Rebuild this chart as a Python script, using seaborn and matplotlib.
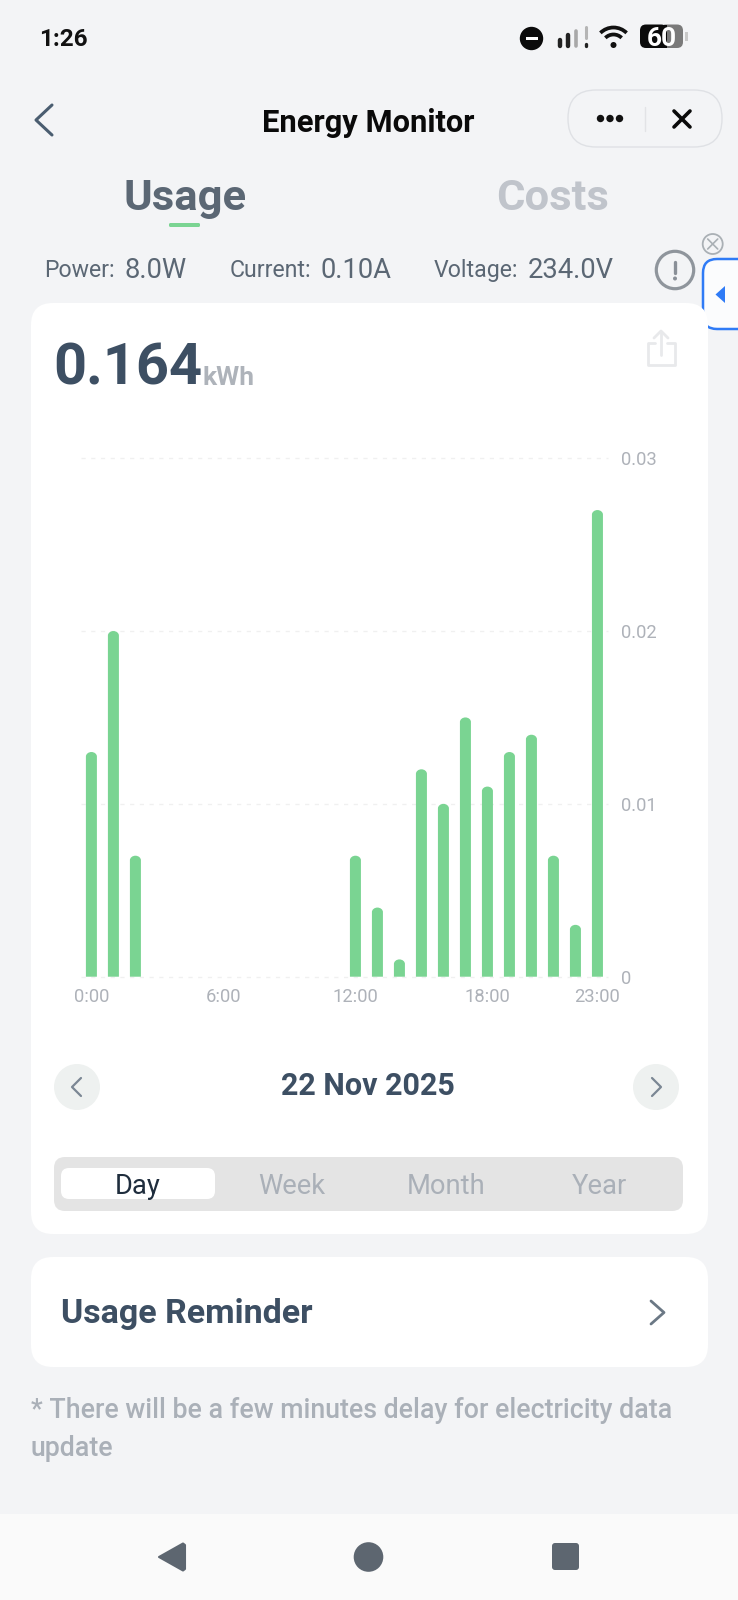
import matplotlib
matplotlib.use('Agg')
import matplotlib.pyplot as plt
import seaborn as sns
import pandas as pd
from matplotlib.patches import FancyBboxPatch, Circle, Polygon, Arc, Rectangle, PathPatch
from matplotlib.path import Path

W, H = 738, 1600

hours = list(range(24))
usage = [0.013, 0.02, 0.007, 0, 0, 0, 0, 0, 0, 0, 0, 0,
         0.007, 0.004, 0.001, 0.012, 0.01, 0.015, 0.011, 0.013, 0.014, 0.007, 0.003, 0.027]
x_ticks = [0, 6, 12, 18, 23]
x_labels = ['0:00', '6:00', '12:00', '18:00', '23:00']
y_ticks = [0, 0.01, 0.02, 0.03]
y_labels = ['0', '0.01', '0.02', '0.03']
periods = ['Day', 'Week', 'Month', 'Year']
readings = [('Power:', '8.0W'), ('Current:', '0.10A'), ('Voltage:', '234.0V')]

BG = '#f3f4f6'
GREEN = '#7ad492'
NAVY = '#3d4f63'
GREY = '#aab0b8'

sns.set_theme(style='white')
plt.rcParams['font.family'] = ['Roboto', 'DejaVu Sans']
plt.rcParams['patch.force_edgecolor'] = False  # seaborn puts a white edge on every patch otherwise

fig = plt.figure(figsize=(W / 100, H / 100), dpi=100, facecolor=BG)

# whole screen in pixel coordinates, the app chrome goes here
ui = fig.add_axes([0, 0, 1, 1], zorder=0)
ui.set_xlim(0, W)
ui.set_ylim(H, 0)
ui.axis('off')


def rrect(x0, y0, x1, y1, r, fc, ec='none', lw=0):
    ui.add_patch(FancyBboxPatch((x0 + r, y0 + r), x1 - x0 - 2 * r, y1 - y0 - 2 * r,
                                boxstyle='round,pad=%s,rounding_size=%s' % (r, r),
                                fc=fc, ec=ec, lw=lw))


def chevron(x0, x1, y0, y1, color, lw=2, left=True):
    tip, tail = (x0, x1) if left else (x1, x0)
    ui.plot([tail, tip, tail], [y0, (y0 + y1) / 2, y1], color=color, lw=lw,
            solid_capstyle='round', solid_joinstyle='round')


def label(x, y, s, size, color, weight='normal', ha='center'):
    ui.text(x, y, s, fontsize=size, color=color, fontweight=weight, ha=ha, va='center_baseline')


# status bar
label(39, 37.5, '1:26', 17.5, '#111111', 'bold', ha='left')
ui.add_patch(Circle((531.5, 38.5), 11.7, fc='#0b0b0b'))
ui.add_patch(Rectangle((525.5, 37), 12, 3, fc='white'))
for bx, top, col, bw in [(559.5, 40, '#222222', 3.2), (567.5, 35, '#222222', 3.2), (576, 31, '#a8a8a8', 2.6)]:
    ui.plot([bx, bx], [46, top], color=col, lw=bw, solid_capstyle='round')
ui.plot([585.5, 585.5], [27, 38], color='#b5b5b5', lw=2.2, solid_capstyle='round')
ui.plot([585.5, 585.5], [44, 46], color='#222222', lw=2.4, solid_capstyle='round')
ui.add_patch(Arc((613.5, 46), 37, 37, theta1=225, theta2=315, color='#111111', lw=2.7))
ui.add_patch(Arc((613.5, 46), 23, 23, theta1=225, theta2=315, color='#111111', lw=2.7))
ui.add_patch(Circle((613.5, 45), 3, fc='#111111'))
rrect(660, 24.5, 683, 48, 6, '#7a7a7a')
rrect(640, 24.5, 667, 48, 6, '#0b0b0b')
ui.add_patch(Rectangle((661, 24.5), 6, 23.5, fc='#0b0b0b'))
ui.add_patch(Rectangle((685, 32), 2.5, 9, fc='#c9c9c9'))
label(661.5, 37, '60', 19, 'white', 'bold')

# header
chevron(36, 52, 105, 135, '#4a5d70', lw=2.2)
label(368.5, 120, 'Energy Monitor', 22.2, '#0a0a0a', 'bold')
rrect(568, 90, 722, 147, 28, BG, ec='#dfe1e5', lw=1)
for dx in [600.5, 610, 619.5]:
    ui.add_patch(Circle((dx, 118.5), 3.7, fc='#111111'))
ui.plot([645, 645], [107, 131], color='#e2e3e6', lw=1)
ui.plot([674, 690], [111, 127], color='#0a0a0a', lw=2.6, solid_capstyle='round')
ui.plot([674, 690], [127, 111], color='#0a0a0a', lw=2.6, solid_capstyle='round')

# tabs
label(185, 194, 'Usage', 31.3, '#5b6774', 'bold')
label(553, 194, 'Costs', 31.3, '#c0c4cb', 'bold')
rrect(169, 223, 200, 227, 1.5, GREEN)

# live readings
for (name, val), nx, vx in zip(readings, [44, 230, 434], [124, 321, 528]):
    label(nx, 268, name, 16.7, '#5b6774', ha='left')
    label(vx, 268, val, 19.7, '#5b6774', ha='left')
ui.add_patch(Circle((675, 270), 18.7, fc='none', ec='#8f959c', lw=2.3))
ui.plot([675, 675], [262, 273], color='#8a9098', lw=2.4, solid_capstyle='round')
ui.add_patch(Circle((675, 278.5), 2, fc='#8a9098'))

# floating tab on the right edge
ui.add_patch(Circle((712.7, 244), 10, fc=BG, ec='#aab0b5', lw=1.3))
ui.plot([707.7, 717.7], [239, 249], color='#aab0b5', lw=1.2)
ui.plot([707.7, 717.7], [249, 239], color='#aab0b5', lw=1.2)
rrect(703, 259, 760, 329, 14, '#fbfcfd', ec='#2f7bf6', lw=1.8)
ui.add_patch(Polygon([(715.5, 294.5), (725, 286), (725, 303)], fc='#2f7bf6'))

# main card
rrect(31, 303, 708, 1234, 22, 'white')
label(53, 363, '0.164', 41.6, NAVY, 'bold', ha='left')
label(202, 375.5, 'kWh', 19, '#aeb3ba', 'bold', ha='left')

# share icon
share = '#e8e9eb'
ui.plot([655, 648, 648, 675, 675, 667], [343, 343, 365, 365, 343, 343], color=share, lw=2,
        solid_joinstyle='round')
ui.plot([661, 661], [332, 355], color=share, lw=2)
ui.plot([654, 661, 668], [338, 331, 338], color=share, lw=2)

# date row
for cx in [77, 656]:
    ui.add_patch(Circle((cx, 1087), 23, fc='#eef1f0'))
chevron(72, 81, 1078, 1096, '#7b8794', lw=1.6)
chevron(652, 661, 1078, 1096, '#7b8794', lw=1.6, left=False)
label(367.5, 1083, '22 Nov 2025', 22, NAVY, 'bold')

# period switch
rrect(54, 1157, 683, 1211, 11, '#e4e4e4')
rrect(61, 1168, 215, 1199, 8, 'white')
for name, cx in zip(periods, [138, 292, 446.5, 599.5]):
    label(cx, 1183.5, name, 19.7, '#1f2d3d' if name == 'Day' else GREY)

# reminder card
rrect(31, 1257, 708, 1367, 22, 'white')
label(61, 1310, 'Usage Reminder', 24.5, NAVY, 'bold', ha='left')
chevron(651, 664, 1301, 1324, '#6b7885', lw=2, left=False)

# footnote
label(31, 1408, '* There will be a few minutes delay for electricity data', 19.3, GREY, 'medium', ha='left')
label(31, 1446, 'update', 19.3, GREY, 'medium', ha='left')

# android nav bar
ui.add_patch(Rectangle((0, 1514), W, 86, fc='#fafafa'))
ui.add_patch(Polygon([(159, 1557), (183, 1543.5), (185, 1545), (185, 1569), (183, 1570.5)],
                     fc='#5d6670', ec='#5d6670', lw=1.5, joinstyle='round'))
ui.add_patch(Circle((368.5, 1557), 14.8, fc='#5d6670'))
rrect(552, 1543, 579, 1570, 3, '#5d6670')

# the chart itself
left, right, top, bottom = 81, 608, 458.2, 976.7
ax = fig.add_axes([left / W, 1 - bottom / H, (right - left) / W, (bottom - top) / H], zorder=1)
ax.patch.set_visible(False)

df = pd.DataFrame({'hour': hours, 'kwh': usage})
sns.barplot(data=df, x='hour', y='kwh', color=GREEN, saturation=1, width=0.5, ax=ax)

ax.set_xlim(-0.473, 23.48)
ax.set_ylim(0, 0.03)
ax.set_xlabel('')
ax.set_ylabel('')
ax.yaxis.tick_right()
ax.set_yticks(y_ticks)
ax.set_yticklabels(y_labels)
ax.set_xticks(x_ticks)
ax.set_xticklabels(x_labels)
ax.tick_params(axis='both', length=0, labelsize=13.2, labelcolor='#aeb2b9')
ax.tick_params(axis='y', pad=9.7)
ax.tick_params(axis='x', pad=8)
ax.grid(axis='y', color='#f0f0f0', lw=1, ls=(0, (3, 4)))
ax.set_axisbelow(True)
for gl in ax.get_ygridlines():
    gl.set_clip_on(False)
sns.despine(ax=ax, left=True, bottom=True, right=True, top=True)

# swap the square bars for ones with a domed top, same geometry from seaborn
ry = 4.5 * 0.03 / (bottom - top)
k = 0.55
for bar in list(ax.patches):
    bar.set_visible(False)
    if bar.get_height() <= 0:
        continue
    x0, w, h = bar.get_x(), bar.get_width(), bar.get_height()
    xc, x1 = x0 + w / 2, x0 + w
    verts = [(x0, 0), (x0, h - ry),
             (x0, h - ry + k * ry), (xc - k * w / 2, h), (xc, h),
             (xc + k * w / 2, h), (x1, h - ry + k * ry), (x1, h - ry),
             (x1, 0), (x0, 0)]
    codes = [Path.MOVETO, Path.LINETO,
             Path.CURVE4, Path.CURVE4, Path.CURVE4,
             Path.CURVE4, Path.CURVE4, Path.CURVE4,
             Path.LINETO, Path.CLOSEPOLY]
    ax.add_patch(PathPatch(Path(verts, codes), fc=GREEN, lw=0, zorder=2))

fig.savefig('out.png', dpi=100, facecolor=BG)
